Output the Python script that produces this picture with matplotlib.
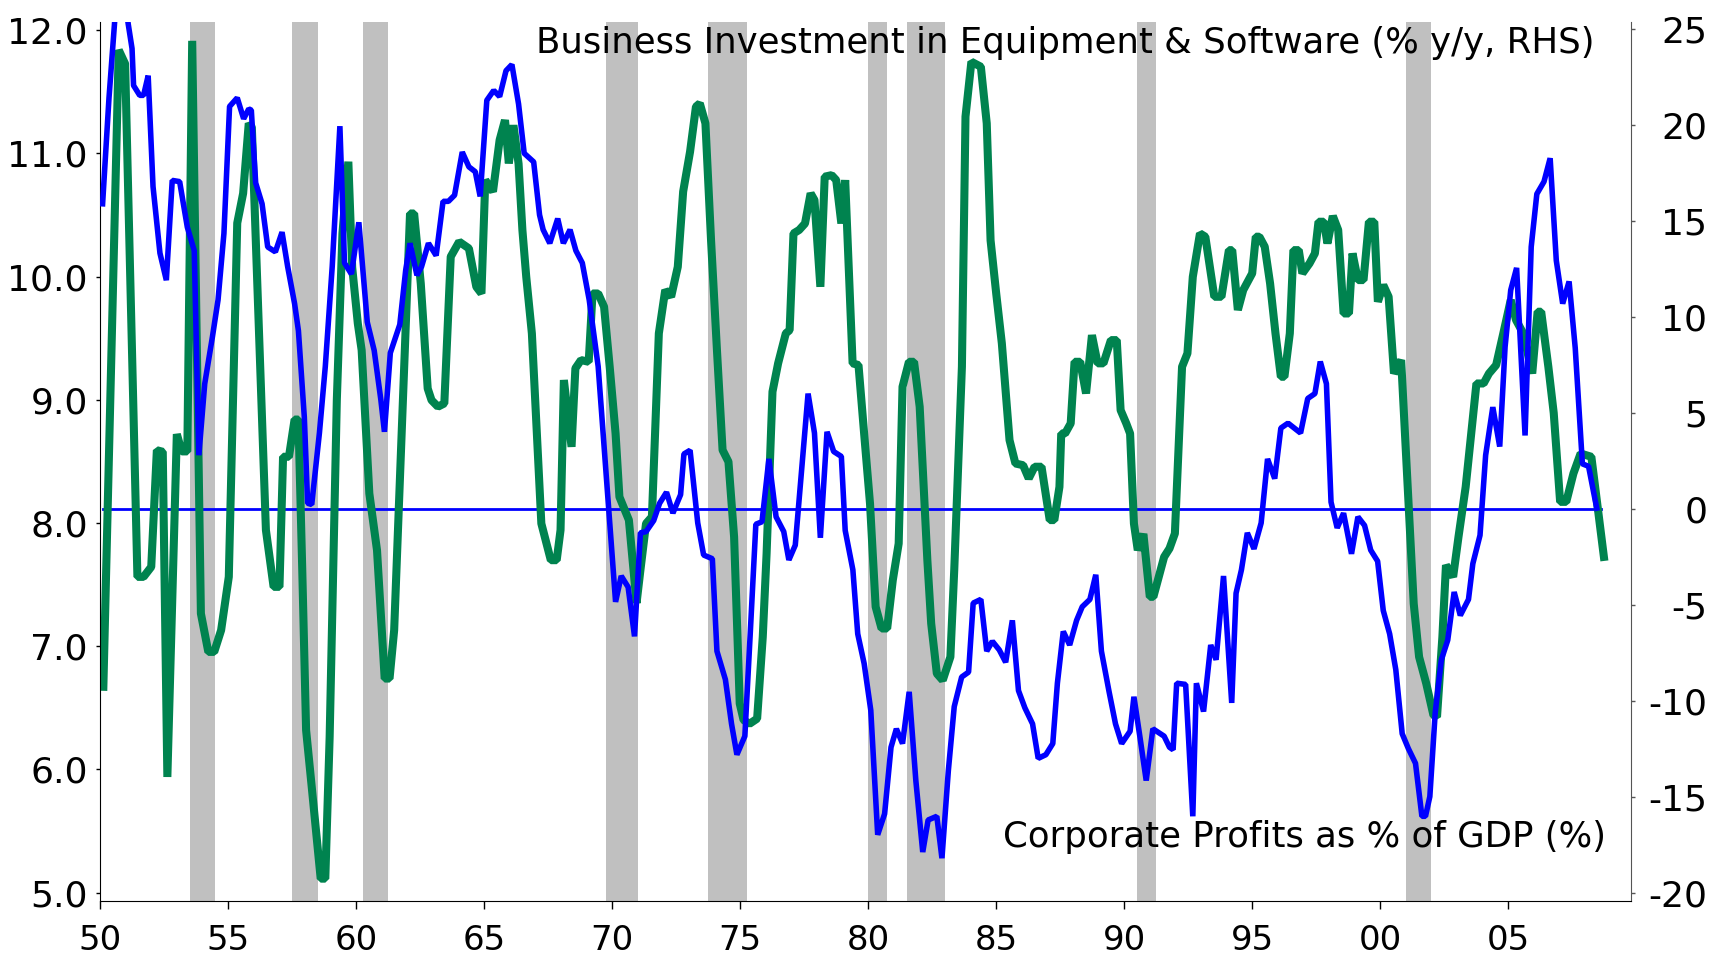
import matplotlib
matplotlib.use('Agg')
import matplotlib.pyplot as plt

plt.rcParams['font.family'] = ['DejaVu Sans']

# Corporate profits as % of GDP (LHS), vertices
profit_t = [1950.09, 1950.34, 1950.59, 1950.84, 1951.09, 1951.24, 1951.30, 1951.54, 1951.69, 1951.87,
            1952.06, 1952.33, 1952.58, 1952.81, 1953.10, 1953.40, 1953.67, 1953.85, 1954.08, 1954.38,
            1954.60, 1954.83, 1955.05, 1955.35, 1955.60, 1955.80, 1955.90, 1956.07, 1956.32, 1956.54,
            1956.84, 1957.10, 1957.32, 1957.59, 1957.74, 1957.97, 1958.10, 1958.26, 1958.56, 1958.79,
            1959.06, 1959.36, 1959.54, 1959.81, 1960.10, 1960.43, 1960.70, 1960.96, 1961.10, 1961.33,
            1961.70, 1961.93, 1962.10, 1962.37, 1962.55, 1962.82, 1963.12, 1963.39, 1963.60, 1963.84,
            1964.14, 1964.40, 1964.65, 1964.84, 1965.10, 1965.37, 1965.60, 1965.85, 1966.08, 1966.34,
            1966.56, 1966.93, 1967.16, 1967.30, 1967.56, 1967.87, 1968.09, 1968.35, 1968.58, 1968.83,
            1969.10, 1969.45, 1970.13, 1970.35, 1970.62, 1970.87, 1971.10, 1971.32, 1971.62, 1971.85,
            1972.12, 1972.37, 1972.67, 1972.80, 1973.04, 1973.34, 1973.57, 1973.91, 1974.09, 1974.42,
            1974.66, 1974.87, 1975.18, 1975.39, 1975.61, 1975.85, 1976.12, 1976.40, 1976.70, 1976.90,
            1977.15, 1977.65, 1977.90, 1978.13, 1978.39, 1978.65, 1978.95, 1979.10, 1979.40, 1979.59,
            1979.84, 1980.10, 1980.37, 1980.64, 1980.89, 1981.10, 1981.34, 1981.60, 1981.86, 1982.13,
            1982.34, 1982.68, 1982.88, 1983.13, 1983.36, 1983.65, 1983.92, 1984.10, 1984.40, 1984.63,
            1984.85, 1985.12, 1985.37, 1985.63, 1985.87, 1986.12, 1986.42, 1986.64, 1986.94, 1987.21,
            1987.39, 1987.62, 1987.87, 1988.14, 1988.36, 1988.66, 1988.89, 1989.11, 1989.41, 1989.66,
            1989.90, 1990.23, 1990.38, 1990.61, 1990.86, 1991.12, 1991.56, 1991.77, 1991.91, 1992.05,
            1992.40, 1992.68, 1992.82, 1993.10, 1993.38, 1993.59, 1993.88, 1994.20, 1994.37, 1994.58,
            1994.81, 1995.07, 1995.35, 1995.60, 1995.88, 1996.12, 1996.40, 1996.89, 1997.17, 1997.45,
            1997.66, 1997.90, 1998.08, 1998.32, 1998.57, 1998.88, 1999.13, 1999.39, 1999.63, 1999.90,
            2000.12, 2000.37, 2000.61, 2000.86, 2001.10, 2001.38, 2001.63, 2001.77, 2001.94, 2002.15,
            2002.39, 2002.64, 2002.89, 2003.13, 2003.45, 2003.62, 2003.90, 2004.12, 2004.40, 2004.67,
            2004.88, 2005.10, 2005.33, 2005.66, 2005.90, 2006.12, 2006.40, 2006.64, 2006.88, 2007.13,
            2007.38, 2007.62, 2007.90, 2008.14, 2008.46]
profit_v = [10.59, 11.45, 12.15, 12.45, 12.05, 11.85, 11.55, 11.47, 11.47, 11.63,
            10.73, 10.19, 9.97, 10.78, 10.77, 10.40, 10.21, 8.55, 9.13, 9.51,
            9.81, 10.35, 11.38, 11.45, 11.28, 11.36, 11.35, 10.76, 10.59, 10.24,
            10.20, 10.36, 10.08, 9.78, 9.56, 8.86, 8.16, 8.15, 8.73, 9.27,
            10.08, 11.22, 10.11, 10.02, 10.44, 9.63, 9.40, 9.00, 8.74, 9.38,
            9.61, 10.05, 10.27, 10.01, 10.08, 10.27, 10.17, 10.61, 10.61, 10.66,
            11.01, 10.89, 10.85, 10.65, 11.43, 11.51, 11.46, 11.67, 11.72, 11.40,
            11.00, 10.93, 10.50, 10.38, 10.27, 10.47, 10.27, 10.38, 10.21, 10.11,
            9.81, 9.27, 7.36, 7.57, 7.48, 7.08, 7.92, 7.93, 8.02, 8.16,
            8.25, 8.08, 8.23, 8.56, 8.59, 8.00, 7.74, 7.71, 6.96, 6.73,
            6.37, 6.12, 6.27, 7.10, 7.99, 8.01, 8.52, 8.05, 7.93, 7.70,
            7.82, 9.05, 8.73, 7.88, 8.74, 8.58, 8.54, 7.94, 7.62, 7.10,
            6.86, 6.48, 5.47, 5.64, 6.18, 6.33, 6.21, 6.63, 5.91, 5.33,
            5.59, 5.62, 5.28, 5.99, 6.51, 6.75, 6.79, 7.35, 7.38, 6.96,
            7.04, 6.97, 6.87, 7.21, 6.64, 6.50, 6.37, 6.09, 6.12, 6.21,
            6.70, 7.12, 7.01, 7.21, 7.32, 7.38, 7.58, 6.96, 6.63, 6.37,
            6.21, 6.31, 6.59, 6.27, 5.91, 6.33, 6.27, 6.18, 6.16, 6.70,
            6.69, 5.62, 6.70, 6.47, 7.01, 6.89, 7.57, 6.54, 7.43, 7.62,
            7.92, 7.79, 8.00, 8.52, 8.36, 8.77, 8.81, 8.73, 9.01, 9.05,
            9.31, 9.13, 8.17, 7.96, 8.08, 7.75, 8.05, 7.98, 7.78, 7.69,
            7.29, 7.10, 6.81, 6.29, 6.17, 6.05, 5.62, 5.62, 5.78, 6.46,
            6.89, 7.05, 7.44, 7.25, 7.38, 7.67, 7.90, 8.55, 8.94, 8.62,
            9.43, 9.89, 10.07, 8.71, 10.24, 10.67, 10.77, 10.96, 10.13, 9.78,
            9.96, 9.42, 8.48, 8.46, 8.12]

# Business investment in equipment & software, % y/y (RHS)
invest_t = [1950.12, 1950.72, 1950.97, 1951.45, 1951.69, 1951.99, 1952.21, 1952.44, 1952.62, 1952.99,
            1953.18, 1953.40, 1953.59, 1953.93, 1954.22, 1954.45, 1954.72, 1955.02, 1955.35, 1955.58,
            1955.80, 1955.92, 1956.47, 1956.77, 1957.00, 1957.14, 1957.37, 1957.59, 1957.74, 1957.89,
            1958.04, 1958.26, 1958.61, 1958.79, 1958.96, 1959.24, 1959.46, 1959.69, 1959.84, 1960.06,
            1960.21, 1960.51, 1960.81, 1961.11, 1961.30, 1961.48, 1962.10, 1962.26, 1962.52, 1962.79,
            1962.94, 1963.19, 1963.44, 1963.69, 1964.02, 1964.40, 1964.69, 1964.89, 1965.04, 1965.34,
            1965.60, 1965.81, 1965.96, 1966.14, 1966.34, 1966.49, 1966.64, 1966.86, 1967.23, 1967.60,
            1967.83, 1967.98, 1968.11, 1968.41, 1968.56, 1968.78, 1969.08, 1969.23, 1969.45, 1969.68,
            1969.90, 1970.13, 1970.28, 1970.65, 1970.95, 1971.10, 1971.32, 1971.55, 1971.82, 1972.07,
            1972.30, 1972.56, 1972.77, 1973.04, 1973.27, 1973.42, 1973.64, 1973.86, 1974.09, 1974.31,
            1974.54, 1974.76, 1974.98, 1975.13, 1975.36, 1975.66, 1975.88, 1976.03, 1976.26, 1976.48,
            1976.78, 1976.93, 1977.08, 1977.30, 1977.53, 1977.75, 1977.90, 1978.13, 1978.30, 1978.57,
            1978.75, 1978.95, 1979.10, 1979.39, 1979.62, 1979.84, 1980.07, 1980.29, 1980.52, 1980.74,
            1980.96, 1981.19, 1981.34, 1981.59, 1981.79, 1982.01, 1982.31, 1982.46, 1982.68, 1982.91,
            1983.21, 1983.36, 1983.66, 1983.80, 1984.03, 1984.40, 1984.63, 1984.78, 1985.00, 1985.22,
            1985.52, 1985.75, 1986.05, 1986.27, 1986.50, 1986.77, 1987.09, 1987.27, 1987.47, 1987.54,
            1987.69, 1987.91, 1988.06, 1988.28, 1988.51, 1988.74, 1988.96, 1989.19, 1989.48, 1989.71,
            1989.86, 1990.08, 1990.23, 1990.38, 1990.53, 1990.75, 1991.00, 1991.14, 1991.56, 1991.77,
            1991.98, 1992.26, 1992.47, 1992.68, 1992.96, 1993.17, 1993.52, 1993.80, 1994.09, 1994.22,
            1994.44, 1994.65, 1995.00, 1995.14, 1995.28, 1995.49, 1995.70, 1995.91, 1996.12, 1996.26,
            1996.47, 1996.61, 1996.82, 1996.96, 1997.24, 1997.45, 1997.59, 1997.80, 1997.94, 1998.15,
            1998.36, 1998.57, 1998.78, 1998.92, 1999.13, 1999.35, 1999.56, 1999.77, 1999.91, 2000.12,
            2000.33, 2000.54, 2000.82, 2001.31, 2001.52, 2001.80, 2002.08, 2002.22, 2002.43, 2002.57,
            2002.85, 2003.06, 2003.34, 2003.76, 2004.04, 2004.25, 2004.53, 2004.81, 2005.10, 2005.31,
            2005.59, 2005.94, 2006.15, 2006.29, 2006.57, 2006.78, 2007.03, 2007.27, 2007.55, 2007.83,
            2008.25, 2008.74]
invest_v = [-9.27, 23.92, 23.20, -3.54, -3.54, -3.02, 3.06, 2.98, -13.97, 3.90,
            3.00, 3.00, 24.40, -5.45, -7.45, -7.45, -6.32, -3.54, 14.90, 16.45,
            20.10, 19.90, -1.10, -4.06, -4.06, 2.72, 2.72, 4.66, 4.66, -3.19,
            -11.53, -14.49, -19.27, -19.27, -11.88, 5.67, 14.36, 18.10, 12.60, 9.67,
            8.28, 0.81, -2.15, -8.84, -8.84, -6.32, 15.40, 15.40, 11.75, 6.28,
            5.67, 5.33, 5.50, 13.15, 13.93, 13.58, 11.58, 11.23, 17.14, 16.54,
            19.23, 20.27, 18.01, 20.00, 18.00, 14.54, 12.10, 9.15, -0.76, -2.67,
            -2.67, -1.10, 6.72, 3.24, 7.33, 7.76, 7.67, 11.23, 11.23, 10.54,
            7.41, 3.93, 0.63, -0.58, -4.90, -3.19, -0.76, -0.41, 9.15, 11.41,
            11.06, 12.62, 16.54, 18.62, 20.97, 21.14, 20.10, 14.00, 8.28, 3.07,
            2.46, -1.45, -10.14, -11.00, -11.20, -10.93, -6.67, -2.32, 6.11, 7.59,
            9.15, 9.32, 14.36, 14.54, 14.88, 16.45, 16.10, 11.58, 17.32, 17.40,
            17.14, 14.88, 17.14, 7.59, 7.50, 3.93, 0.28, -5.10, -6.23, -6.23,
            -3.71, -1.80, 6.37, 7.67, 7.67, 5.33, -2.67, -5.97, -8.58, -8.93,
            -7.71, -3.19, 7.41, 20.45, 23.31, 23.05, 20.10, 14.00, 11.23, 8.63,
            3.59, 2.37, 2.28, 1.59, 2.20, 2.20, -0.58, -0.58, 1.15, 3.93,
            3.93, 4.46, 7.67, 7.67, 6.02, 9.06, 7.59, 7.59, 8.80, 8.80,
            5.15, 4.46, 3.93, -0.76, -2.15, -1.30, -4.58, -4.58, -2.50, -2.06,
            -1.28, 7.41, 8.11, 12.10, 14.36, 14.19, 11.06, 11.06, 13.49, 13.49,
            10.37, 11.41, 12.28, 14.19, 14.19, 13.67, 11.75, 9.15, 6.89, 6.89,
            9.15, 13.49, 13.49, 12.28, 12.80, 13.32, 14.97, 14.97, 13.84, 15.27,
            14.54, 10.19, 10.19, 13.32, 11.93, 11.93, 14.97, 14.97, 10.80, 11.67,
            11.06, 7.06, 7.76, -4.93, -7.71, -9.10, -10.75, -10.84, -6.67, -2.93,
            -3.54, -1.45, 1.15, 6.54, 6.54, 7.06, 7.50, 9.15, 10.89, 9.84,
            9.15, 7.06, 10.28, 10.28, 7.41, 5.00, 0.37, 0.37, 1.85, 2.89,
            2.72, -2.50]

recessions = [(1953.5, 1954.5), (1957.5, 1958.5), (1960.25, 1961.25), (1969.75, 1971.0),
              (1973.75, 1975.25), (1980.0, 1980.75), (1981.5, 1983.0), (1990.5, 1991.25),
              (2001.0, 2002.0)]

zero_t = [1950.12, 2008.64]
zero_v = [0, 0]

x_ticks = list(range(1950, 2006, 5))
x_labels = ['%02d' % (y % 100) for y in x_ticks]
left_ticks = [5, 6, 7, 8, 9, 10, 11, 12]
right_ticks = [-20, -15, -10, -5, 0, 5, 10, 15, 20, 25]

fig = plt.figure(figsize=(17.13, 9.58), dpi=100)
ax = fig.add_axes([0.05855, 0.0598, 0.8936, 0.9172])
ax2 = ax.twinx()
ax.set_zorder(ax2.get_zorder() + 1)
ax.patch.set_visible(False)

for s, e in recessions:
    ax2.axvspan(s, e, color='#C0C0C0', lw=0, zorder=0)
ax2.plot(zero_t, zero_v, color='#0000FF', lw=2, zorder=1)
ax2.plot(invest_t, invest_v, color='#00834F', lw=5.8, solid_joinstyle='bevel', zorder=2)
ax.plot(profit_t, profit_v, color='#0000FF', lw=4, solid_joinstyle='bevel', zorder=3)

ax.set_xlim(1950, 2009.8)
ax.set_ylim(4.935, 12.065)
ax2.set_ylim(-20.42, 25.38)

ax.set_xticks(x_ticks)
ax.set_xticklabels(x_labels)
ax.set_yticks(left_ticks)
ax.set_yticklabels(['%.1f' % v for v in left_ticks])
ax2.set_yticks(right_ticks)
ax2.set_yticklabels([str(v) for v in right_ticks])

ax.tick_params(axis='x', direction='out', length=5.5, width=1, labelsize=24.5, pad=11)
ax.tick_params(axis='y', direction='out', length=3, width=1, labelsize=26, pad=6)
ax2.tick_params(axis='y', direction='out', length=3, width=1, labelsize=26, pad=52,
                color='#555555')
for lab in ax2.get_yticklabels():
    lab.set_horizontalalignment('right')

for side in ['top', 'right']:
    ax.spines[side].set_visible(False)
for side in ['top', 'left', 'bottom']:
    ax2.spines[side].set_visible(False)
ax2.spines['right'].set_color('#555555')

fig.text(0.9311, 0.9443, 'Business Investment in Equipment & Software (% y/y, RHS)',
         ha='right', va='baseline', fontsize=25.6)
fig.text(0.9375, 0.1162, 'Corporate Profits as % of GDP (%)',
         ha='right', va='baseline', fontsize=25.6)

fig.savefig('out.png', dpi=100)
